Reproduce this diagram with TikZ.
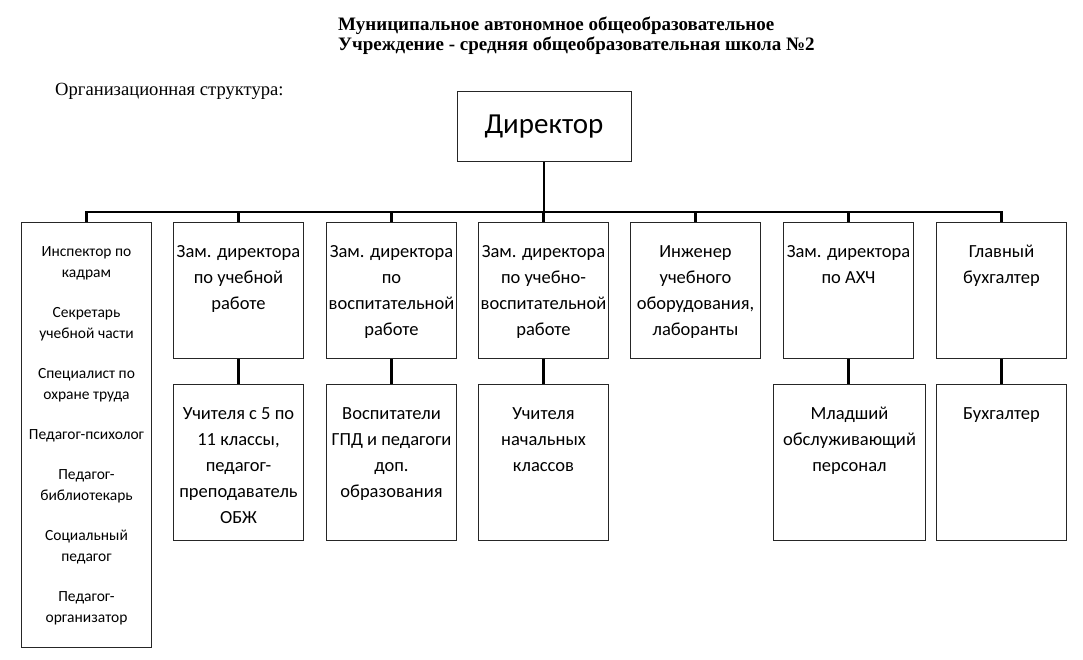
\documentclass[tikz,border=0pt]{standalone}
\usepackage{fontspec}
\setmainfont{Liberation Serif}
\newfontfamily\calib{Carlito}
\usetikzlibrary{positioning}

\tikzset{
  box/.style={draw=black!85, line width=1pt, minimum width=130pt, minimum height=136pt, inner sep=0pt, anchor=north west},
  lowbox/.style={box, minimum height=156pt},
  txt/.style={anchor=north, align=center, inner sep=0pt, font=\calib\fontsize{18.5}{26}\selectfont},
  small/.style={txt, font=\calib\fontsize{15.5}{21}\selectfont},
  link/.style={line width=2.8pt}
}

\begin{document}
\begin{tikzpicture}[x=1pt,y=-1pt]
\useasboundingbox (0,0) rectangle (1083,660);

% heading
\node[anchor=base west, align=left, inner sep=0pt, font=\bfseries\fontsize{19}{20}\selectfont] (title) at (338,51)
  {Муниципальное автономное общеобразовательное\\Учреждение - средняя общеобразовательная школа №2};
\node[anchor=base west, inner sep=0pt, font=\fontsize{18.6}{20}\selectfont] (org) at (55,96) {Организационная структура:};

% director
\node[draw=black!85, line width=1pt, minimum width=174pt, minimum height=70pt, font=\calib\fontsize{29}{34}\selectfont] (dir) at (544,127) {Директор};
\coordinate (bus) at (543,212);

% first row
\node[box, minimum height=425pt] (kadry) at (21,222) {};
\node[box] (uch) at (173,222) {};
\node[box] (vosp) at (326,222) {};
\node[box] (uv) at (478,222) {};
\node[box] (ing) at (630,222) {};
\node[box] (ahch) at (783,222) {};
\node[box] (buh) at (936,222) {};

\node[small, below=20pt of kadry.north] (kadryt) {\strut Инспектор по\\кадрам\\[19pt]Секретарь\\учебной части\\[19pt]Специалист по\\охране труда\\[19pt]Педагог-психолог\\[19pt]Педагог-\\библиотекарь\\[19pt]Социальный\\педагог\\[19pt]Педагог-\\организатор};
\node[txt, below=17pt of uch.north] (ucht) {\strut Зам. директора\\по учебной\\работе};
\node[txt, below=17pt of vosp.north] (vospt) {\strut Зам. директора\\по\\воспитательной\\работе};
\node[txt, below=17pt of uv.north] (uvt) {\strut Зам. директора\\по учебно-\\воспитательной\\работе};
\node[txt, below=17pt of ing.north] (ingt) {\strut Инженер\\учебного\\оборудования,\\лаборанты};
\node[txt, below=17pt of ahch.north] (ahcht) {\strut Зам. директора\\по АХЧ};
\node[txt, below=17pt of buh.north] (buht) {\strut Главный\\бухгалтер};

% second row
\node[lowbox] (uch2) at (173,384) {};
\node[lowbox] (vosp2) at (326,384) {};
\node[lowbox] (nach) at (478,384) {};
\node[lowbox, minimum width=152pt] (mop) at (773,384) {};
\node[lowbox] (buh2) at (936,384) {};

\node[txt, below=17pt of uch2.north] (uch2t) {\strut Учителя с 5 по\\11 классы,\\педагог-\\преподаватель\\ОБЖ};
\node[txt, below=17pt of vosp2.north] (vosp2t) {\strut Воспитатели\\ГПД и педагоги\\доп.\\образования};
\node[txt, below=17pt of nach.north] (nacht) {\strut Учителя\\начальных\\классов};
\node[txt, below=17pt of mop.north] (mopt) {\strut Младший\\обслуживающий\\персонал};
\node[txt, below=17pt of buh2.north] (buh2t) {\strut Бухгалтер};

% links
\draw[link] (dir.south) -- (dir.south |- bus);
\foreach \b in {kadry,uch,vosp,uv,ing,ahch,buh}
  \draw[link] (\b.north) |- (bus);
\foreach \a/\b in {uch/uch2,vosp/vosp2,uv/nach,buh/buh2}
  \draw[link] (\a) -- (\b);
\draw[link] (ahch.south) -- (ahch.south |- mop.north);

\end{tikzpicture}
\end{document}
